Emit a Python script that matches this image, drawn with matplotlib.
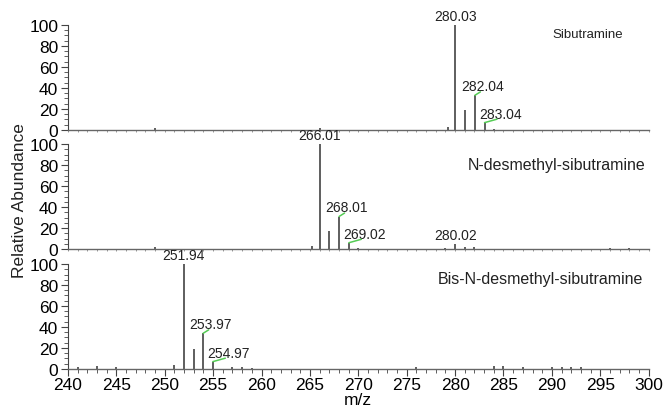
import numpy as np
import matplotlib.pyplot as plt
from matplotlib.ticker import MultipleLocator

plt.rcParams['font.family'] = ['Liberation Sans', 'DejaVu Sans']

# spectrum 1 - sibutramine
mz1 = [249.0, 266.0, 279.3, 280.03, 281.03, 282.04, 283.04, 284.0]
ab1 = [1.5, 1.5, 3, 100, 19, 33, 7, 1]
# spectrum 2 - N-desmethyl-sibutramine
mz2 = [249.0, 265.2, 266.01, 267.0, 268.01, 269.02, 270.0, 279.0, 280.02, 281.0, 282.0, 296.0, 298.0]
ab2 = [2, 3, 100, 17, 31, 6, 1, 1, 5, 2, 1.5, 1, 1]
# spectrum 3 - bis-N-desmethyl-sibutramine
mz3 = [241.0, 243.0, 245.0, 251.0, 251.94, 253.0, 253.97, 254.97, 257.0, 258.0, 259.0,
       276.0, 284.0, 285.0, 287.0, 290.0, 291.0, 292.0, 293.0]
ab3 = [2, 3, 1.5, 4, 100, 19, 34, 7, 2, 2, 1, 2, 3, 3, 1.5, 1.5, 2, 2, 1.5]

# labelled peaks: (m/z, text, style)  style 'c' centred, 'g' with green leader
labels1 = [(280.03, '280.03', 'c'), (282.04, '282.04', 'g'), (283.04, '283.04', 'g')]
labels2 = [(266.01, '266.01', 'c'), (268.01, '268.01', 'g'), (269.02, '269.02', 'g'), (280.02, '280.02', 'c')]
labels3 = [(251.94, '251.94', 'c'), (253.97, '253.97', 'g'), (254.97, '254.97', 'g')]

names = ['Sibutramine', 'N-desmethyl-sibutramine', 'Bis-N-desmethyl-sibutramine']
name_sizes = [9.5, 11.5, 11.5]
name_pos = [(0.955, 0.91), (0.995, 0.81), (0.99, 0.865)]

fig = plt.figure(figsize=(6.66, 4.14), dpi=100)
left, width = 0.102, 0.872
bottoms = [0.6836, 0.396, 0.1063]
h = 0.2536

data = [(mz1, ab1, labels1), (mz2, ab2, labels2), (mz3, ab3, labels3)]
axes = []
for i, (mz, ab, labs) in enumerate(data):
    ax = fig.add_axes([left, bottoms[i], width, h])
    axes.append(ax)
    ax.vlines(mz, 0, ab, color='#333333', lw=1.1)
    ax.set_xlim(240, 300)
    ax.set_ylim(0, 100)
    for s in ['top', 'right']:
        ax.spines[s].set_visible(False)
    ax.spines['left'].set_color('#444444')
    ax.spines['bottom'].set_color('#666666')
    ax.spines['left'].set_linewidth(0.8)
    ax.spines['bottom'].set_linewidth(1.0)
    ax.yaxis.set_major_locator(MultipleLocator(20))
    ax.yaxis.set_minor_locator(MultipleLocator(5))
    ax.xaxis.set_major_locator(MultipleLocator(5))
    ax.xaxis.set_minor_locator(MultipleLocator(1))
    ax.tick_params(axis='y', which='major', length=5, width=0.8, color='#444444',
                   labelsize=12.5, pad=2)
    ax.tick_params(axis='y', which='minor', length=3, width=0.6, color='#444444')
    if i < 2:
        ax.tick_params(axis='x', which='both', length=1.5, width=0.6, color='#888888',
                       labelbottom=False)
    else:
        ax.tick_params(axis='x', which='major', length=5, width=0.8, color='#444444',
                       labelsize=12.5, pad=1)
        ax.tick_params(axis='x', which='minor', length=3, width=0.6, color='#444444')
    ab_of = dict(zip(mz, ab))
    for x, t, st in labs:
        y = ab_of[x]
        if st == 'c':
            ax.annotate(t, (x, y), xytext=(0, 1.5), textcoords='offset points',
                        ha='center', va='bottom', fontsize=10, color='#222222',
                        annotation_clip=False)
        else:
            ax.annotate(t, (x, y), xytext=(-10 if y > 15 else -4, 1.5),
                        textcoords='offset points', ha='left', va='bottom',
                        fontsize=10, color='#222222', annotation_clip=False)
            ax.annotate('', (x, y), xytext=(4 if y > 15 else 9, 2.5),
                        textcoords='offset points', annotation_clip=False,
                        arrowprops=dict(arrowstyle='-', color='#55cc55', lw=1.1,
                                        shrinkA=0, shrinkB=0))
    ax.text(name_pos[i][0], name_pos[i][1], names[i], transform=ax.transAxes,
            ha='right', va='center', fontsize=name_sizes[i], color='#222222')

axes[2].set_xlabel('m/z', fontsize=12.5, labelpad=0)
fig.text(0.03, 0.515, 'Relative Abundance', rotation=90, ha='center', va='center',
         fontsize=12.5, color='#222222')

fig.savefig('out.png', dpi=100)
